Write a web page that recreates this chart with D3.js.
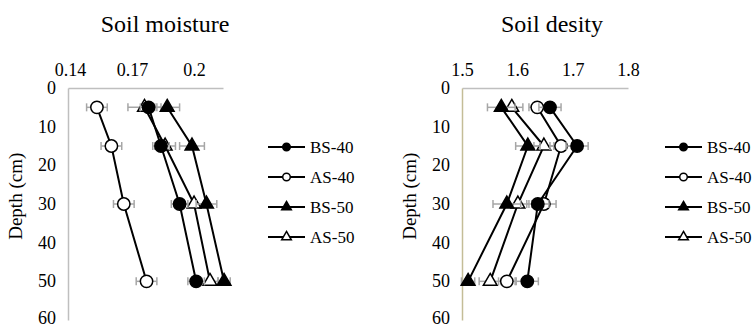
<!DOCTYPE html>
<html>
<head>
<meta charset="utf-8">
<script src="https://cdn.jsdelivr.net/npm/d3@7"></script>
<style>
  body { margin: 0; background: #fff; }
  text { font-family: "Liberation Serif", "DejaVu Serif", serif; fill: #000; }
</style>
</head>
<body>
<script>
const width = 754;
const height = 328;

// depths (cm) shared by every series
const depths = [5, 15, 30, 50];
const depthTicks = [0, 10, 20, 30, 40, 50, 60];
const seriesNames = ["BS-40", "AS-40", "BS-50", "AS-50"];

// soil moisture
const moistureTicks = [0.14, 0.17, 0.2];
const moistureBS40 = [0.178, 0.184, 0.193, 0.201];
const moistureAS40 = [0.153, 0.160, 0.166, 0.177];
const moistureBS50 = [0.187, 0.199, 0.206, 0.2145];
const moistureAS50 = [0.176, 0.186, 0.200, 0.2077];
const moistureErrBS40 = [0.004, 0.004, 0.004, 0.004];
const moistureErrAS40 = [0.005, 0.005, 0.005, 0.005];
const moistureErrBS50 = [0.006, 0.006, 0.005, 0.003];
const moistureErrAS50 = [0.008, 0.005, 0.005, 0.004];

// soil density
const densityTicks = [1.5, 1.6, 1.7, 1.8];
const densityBS40 = [1.659, 1.708, 1.637, 1.618];
const densityAS40 = [1.636, 1.679, 1.648, 1.581];
const densityBS50 = [1.571, 1.619, 1.581, 1.511];
const densityAS50 = [1.590, 1.648, 1.601, 1.551];
const densityErrBS40 = [0.02, 0.02, 0.02, 0.02];
const densityErrAS40 = [0.015, 0.02, 0.022, 0.015];
const densityErrBS50 = [0.025, 0.022, 0.025, 0.012];
const densityErrAS50 = [0.02, 0.018, 0.02, 0.02];

const svg = d3.select("body")
  .append("svg")
  .attr("width", width)
  .attr("height", height);

const markers = {
  "BS-40": { type: d3.symbolCircle, fill: "#000" },
  "AS-40": { type: d3.symbolCircle, fill: "#fff" },
  "BS-50": { type: d3.symbolTriangle, fill: "#000" },
  "AS-50": { type: d3.symbolTriangle, fill: "#fff" }
};

function drawPanel(opts) {
  const x = d3.scaleLinear().domain(opts.domain).range(opts.range);
  const y = d3.scaleLinear().domain([0, 60]).range([88, 320]);
  const g = svg.append("g");

  g.append("text")
    .attr("x", opts.titleX)
    .attr("y", 32)
    .attr("text-anchor", "middle")
    .style("font-size", "24px")
    .text(opts.title);

  const xAxis = g.append("g")
    .attr("transform", `translate(0,${y(0)})`)
    .call(d3.axisTop(x).tickValues(opts.ticks).tickSize(0).tickPadding(12)
      .tickFormat(d3.format("~g")));
  xAxis.select(".domain").attr("stroke", "#bfbfbf").attr("stroke-width", 1.5);
  xAxis.selectAll("text").style("font-size", "18px").style("font-family", "Liberation Serif, serif");

  const yAxis = g.append("g")
    .attr("transform", `translate(${opts.range[0]},0)`)
    .call(d3.axisLeft(y).tickValues(depthTicks).tickSize(0).tickPadding(12));
  yAxis.select(".domain").attr("stroke", opts.yAxisColor).attr("stroke-width", 1.5);
  yAxis.selectAll("text")
    .attr("dy", d => d === 60 ? "0.2em" : "0.3em")
    .style("font-size", "18px").style("font-family", "Liberation Serif, serif");

  g.append("text")
    .attr("transform", `translate(${opts.range[0] - 46},${y(28)}) rotate(-90)`)
    .attr("text-anchor", "middle")
    .style("font-size", "19px")
    .text("Depth (cm)");

  const line = d3.line().x(d => x(d.v)).y(d => y(d.d));

  // draw in reverse so BS-40 sits on top
  opts.series.slice().reverse().forEach(s => {
    const pts = depths.map((d, i) => ({ d: d, v: s.values[i], e: s.err[i] }));
    const sg = g.append("g");

    sg.append("path")
      .datum(pts)
      .attr("d", line)
      .attr("fill", "none")
      .attr("stroke", "#000")
      .attr("stroke-width", 2);

    const eb = sg.selectAll(".err").data(pts).enter().append("g");
    eb.append("line")
      .attr("x1", d => x(d.v - d.e)).attr("x2", d => x(d.v + d.e))
      .attr("y1", d => y(d.d)).attr("y2", d => y(d.d));
    eb.append("line")
      .attr("x1", d => x(d.v - d.e)).attr("x2", d => x(d.v - d.e))
      .attr("y1", d => y(d.d) - 4).attr("y2", d => y(d.d) + 4);
    eb.append("line")
      .attr("x1", d => x(d.v + d.e)).attr("x2", d => x(d.v + d.e))
      .attr("y1", d => y(d.d) - 4).attr("y2", d => y(d.d) + 4);
    eb.selectAll("line").attr("stroke", "#a6a6a6").attr("stroke-width", 1.5);

    const m = markers[s.name];
    const size = m.type === d3.symbolCircle ? 120 : 82;
    sg.selectAll(".pt").data(pts).enter().append("path")
      .attr("transform", d => `translate(${x(d.v)},${y(d.d)})`)
      .attr("d", d3.symbol().type(m.type).size(size))
      .attr("fill", m.fill)
      .attr("stroke", "#000")
      .attr("stroke-width", 1.5);
  });

  // legend
  const lg = g.append("g");
  seriesNames.forEach((name, i) => {
    const ly = 147 + i * 30;
    const m = markers[name];
    lg.append("line")
      .attr("x1", opts.legendX).attr("x2", opts.legendX + 37)
      .attr("y1", ly).attr("y2", ly)
      .attr("stroke", "#000").attr("stroke-width", 2);
    lg.append("path")
      .attr("transform", `translate(${opts.legendX + 18.5},${ly})`)
      .attr("d", d3.symbol().type(m.type).size(m.type === d3.symbolCircle ? 45 : 40))
      .attr("fill", m.fill)
      .attr("stroke", "#000")
      .attr("stroke-width", 1.5);
    lg.append("text")
      .attr("x", opts.legendX + 42)
      .attr("y", ly)
      .attr("dy", "0.35em")
      .style("font-size", "17px")
      .text(name);
  });
}

drawPanel({
  title: "Soil moisture",
  titleX: 165,
  domain: [0.139, 0.214],
  range: [68, 223],
  ticks: moistureTicks,
  yAxisColor: "#bfbfbf",
  legendX: 268,
  series: [
    { name: "BS-40", values: moistureBS40, err: moistureErrBS40 },
    { name: "AS-40", values: moistureAS40, err: moistureErrAS40 },
    { name: "BS-50", values: moistureBS50, err: moistureErrBS50 },
    { name: "AS-50", values: moistureAS50, err: moistureErrAS50 }
  ]
});

drawPanel({
  title: "Soil desity",
  titleX: 552,
  domain: [1.5, 1.8],
  range: [462, 628],
  ticks: densityTicks,
  yAxisColor: "#c4bd97",
  legendX: 665,
  series: [
    { name: "BS-40", values: densityBS40, err: densityErrBS40 },
    { name: "AS-40", values: densityAS40, err: densityErrAS40 },
    { name: "BS-50", values: densityBS50, err: densityErrBS50 },
    { name: "AS-50", values: densityAS50, err: densityErrAS50 }
  ]
});
</script>
</body>
</html>
